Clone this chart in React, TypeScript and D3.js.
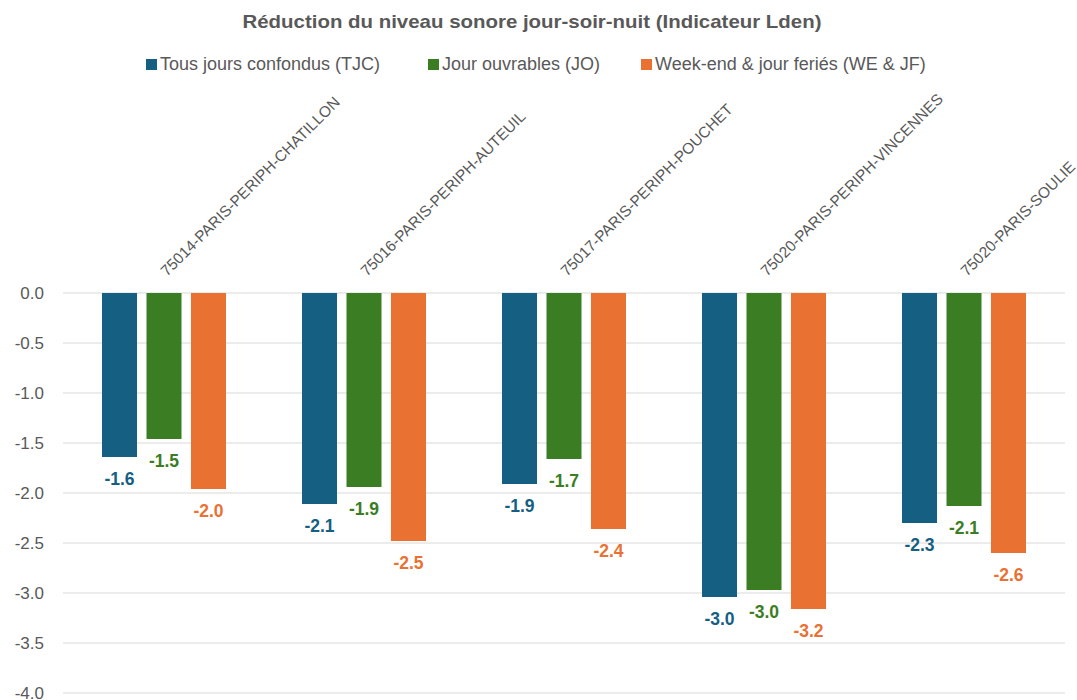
import React, { useEffect, useRef } from 'react';
import * as d3 from 'd3';

const categories = [
  '75014-PARIS-PERIPH-CHATILLON',
  '75016-PARIS-PERIPH-AUTEUIL',
  '75017-PARIS-PERIPH-POUCHET',
  '75020-PARIS-PERIPH-VINCENNES',
  '75020-PARIS-SOULIE',
];
const seriesNames = ['Tous jours confondus (TJC)', 'Jour ouvrables (JO)', 'Week-end & jour feriés (WE & JF)'];
const tjc = [-1.64, -2.11, -1.91, -3.04, -2.3];
const jo = [-1.46, -1.94, -1.66, -2.97, -2.13];
const wejf = [-1.96, -2.48, -2.36, -3.16, -2.6];
const colors = ['#156082', '#3B7D23', '#E97132'];
const yTicks = [0, -0.5, -1, -1.5, -2, -2.5, -3, -3.5, -4];

const W = 1077;
const H = 700;

const App: React.FC = () => {
  const svgRef = useRef<SVGSVGElement>(null);

  useEffect(() => {
    const svg = d3.select(svgRef.current);
    svg.selectAll('*').remove();

    const values = [tjc, jo, wejf];
    const rows = categories.map((c, i) => ({ cat: c, vals: values.map(v => v[i]) }));

    // échelles
    const x0 = d3.scaleBand<string>().domain(categories).range([64, 1064])
      .paddingInner(0.38).paddingOuter(0.19);
    const x1 = d3.scaleBand<number>().domain([0, 1, 2]).range([0, x0.bandwidth()])
      .paddingInner(0.213);
    const y = d3.scaleLinear().domain([-4, 0]).range([693, 293]);

    // grille
    svg.append('g').selectAll('line').data(yTicks).enter().append('line')
      .attr('x1', 63).attr('x2', 1065)
      .attr('y1', d => y(d)).attr('y2', d => y(d))
      .attr('stroke', '#d9d9d9').attr('stroke-width', 1);

    svg.append('g').selectAll('text').data(yTicks).enter().append('text')
      .attr('x', 44).attr('y', d => y(d)).attr('dy', '0.35em')
      .attr('text-anchor', 'end')
      .attr('font-family', '"Liberation Sans", Arial, sans-serif')
      .attr('font-size', 17).attr('fill', '#595959')
      .text(d => d.toFixed(1));

    // barres
    const groups = svg.append('g').selectAll('g').data(rows).enter().append('g')
      .attr('transform', d => `translate(${x0(d.cat)},0)`);

    groups.selectAll('rect').data(d => d.vals).enter().append('rect')
      .attr('x', (d, i) => x1(i) as number)
      .attr('y', y(0))
      .attr('width', x1.bandwidth())
      .attr('height', d => y(d) - y(0))
      .attr('fill', (d, i) => colors[i]);

    groups.selectAll('text.val').data(d => d.vals).enter().append('text')
      .attr('class', 'val')
      .attr('x', (d, i) => (x1(i) as number) + x1.bandwidth() / 2)
      .attr('y', d => y(d) + 28)
      .attr('text-anchor', 'middle')
      .attr('font-family', '"Liberation Sans", Arial, sans-serif')
      .attr('font-size', 17.5).attr('font-weight', 'bold')
      .attr('fill', (d, i) => colors[i])
      .text(d => d.toFixed(1));

    // libellés des catégories (inclinés)
    svg.append('g').selectAll('text').data(categories).enter().append('text')
      .attr('transform', d => `translate(${(x0(d) as number) + x0.bandwidth() / 2 + 3},277) rotate(-45)`)
      .attr('font-family', '"Liberation Sans", Arial, sans-serif')
      .attr('font-size', 15.4).attr('fill', '#595959')
      .text(d => d);

    // titre (police étroite simulée)
    svg.append('text')
      .attr('x', 532).attr('y', 28)
      .attr('text-anchor', 'middle')
      .attr('font-family', '"Liberation Sans", sans-serif')
      .attr('font-size', 19).attr('font-weight', 'bold').attr('fill', '#595959')
      .attr('textLength', 579).attr('lengthAdjust', 'spacingAndGlyphs')
      .text('Réduction du niveau sonore jour-soir-nuit (Indicateur Lden)');

    // légende
    const legendX = [146, 428, 641];
    const legend = svg.append('g').selectAll('g').data(seriesNames).enter().append('g')
      .attr('transform', (d, i) => `translate(${legendX[i]},59)`);
    legend.append('rect').attr('width', 11).attr('height', 11)
      .attr('fill', (d, i) => colors[i]);
    legend.append('text').attr('x', 14).attr('y', 11)
      .attr('font-family', '"Liberation Sans", sans-serif')
      .attr('font-size', 18).attr('fill', '#595959')
      .text(d => d);
  }, []);

  return (
    <div style={{ position: 'absolute', left: 0, top: 0, width: W, height: H, background: '#fff' }}>
      <svg ref={svgRef} width={W} height={H} />
    </div>
  );
};

export default App;
